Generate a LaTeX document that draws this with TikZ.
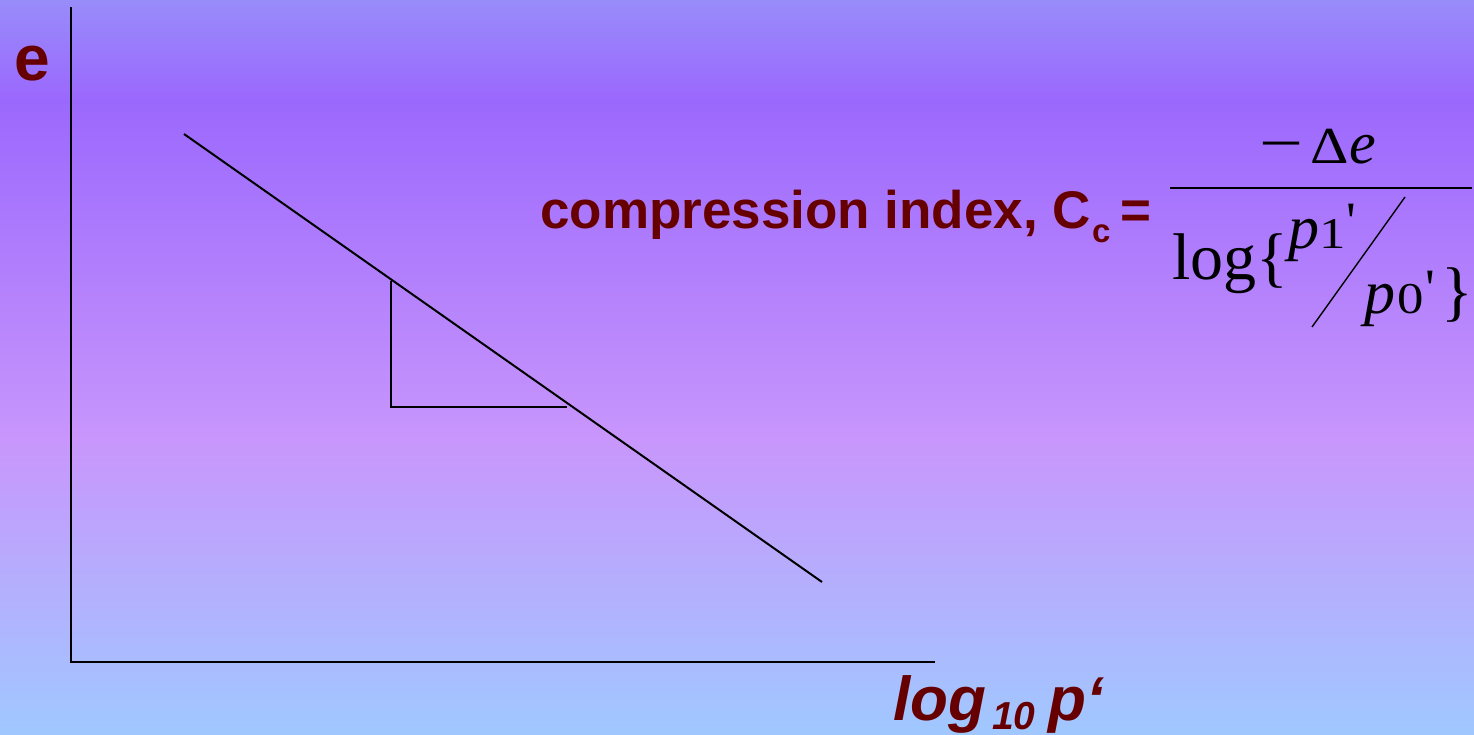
\documentclass[tikz,border=0pt]{standalone}
\usepackage{fontspec}
\setmainfont{Liberation Serif}
\newfontfamily\labelfont{Liberation Sans}
\newfontfamily\eqfont{Liberation Serif}
\usetikzlibrary{calc}
\definecolor{labelred}{HTML}{660000}
\definecolor{bgtop}{RGB}{152,140,250}
\definecolor{bgviolet}{RGB}{155,104,253}
\definecolor{bgpink}{RGB}{200,150,252}
\definecolor{bgblue}{RGB}{160,200,255}
\pgfdeclareverticalshading{slidebg}{100bp}{
    color(0bp)=(bgblue); color(25bp)=(bgblue);
    color(45bp)=(bgpink); color(68.2bp)=(bgviolet);
    color(75bp)=(bgtop); color(100bp)=(bgtop)}
\tikzset{
    axis line/.style={
        line width=2.5pt,
        black
    },
    slope line/.style={
        line width=2pt,
        black
    },
    axis label/.style={
        text=labelred,
        inner sep=0pt,
        anchor=base west
    },
    eq part/.style={
        text=black,
        inner sep=0pt,
        anchor=base west
    }
}
\newcommand{\fsz}[1]{\fontsize{#1}{#1}\selectfont}
\newcommand{\wide}[2][1.2]{\scalebox{#1}[1]{#2}}

\begin{document}
\begin{tikzpicture}[x=1pt,y=-1pt]
                \useasboundingbox (0,0) rectangle (1474,734);
                \shade[shading=slidebg] (0,0) rectangle (1474,734);
                \coordinate (O) at (71, 662);
                \coordinate (Ytop) at (71, 7);
                \coordinate (Xend) at (935, 662);
                \coordinate (L1) at (184, 134);
                \coordinate (L2) at (822, 582);
                \coordinate (T1) at (391, 281);
                \coordinate (T2) at (391, 407);
                \coordinate (T3) at (567, 407);
                \coordinate (B1) at (1170, 188);
                \coordinate (B2) at (1472, 188);
                \coordinate (S1) at (1312, 327);
                \coordinate (S2) at (1405, 197);
                \draw [axis line] (Ytop) -- (O) -- (Xend);
                \draw [slope line] (L1) -- (L2);
                \draw [slope line] (T1) -- (T2) -- (T3);
                \node [axis label, font=\labelfont\bfseries\fsz{64}] (elabel) at (14, 80) {e};
                \node [axis label, font=\labelfont\bfseries\itshape\fsz{62}] (loglabel) at (893, 720) {log};
                \node [axis label, font=\labelfont\bfseries\itshape\fsz{39}] (tenlabel) at (992, 729) {10};
                \node [axis label, font=\labelfont\bfseries\itshape\fsz{62}] (plabel) at (1048, 720) {p‘};
                \node [axis label, font=\labelfont\bfseries\fsz{53}] (cctext) at (540, 228) {compression index, C};
                \node [axis label, font=\labelfont\bfseries\fsz{33}] (ccsub) at (1092, 242) {c};
                \node [axis label, font=\labelfont\bfseries\fsz{53}] (cceq) at (1120, 228) {=};
                \draw [line width=2.5pt] (B1) -- (B2);
                \draw [line width=1.4pt] (S1) -- (S2);
                \node [eq part, font=\fsz{60}] (minus) at (1259, 163) {\wide[1.3]{−}};
                \node [eq part, font=\fsz{52}] (delta) at (1310, 163) {\wide[1.15]{Δ}};
                \node [eq part, font=\itshape\fsz{60}] (evar) at (1349, 163) {e};
                \node [eq part, font=\fsz{66}] (logtxt) at (1172, 279) {log\{};
                \node [eq part, font=\itshape\fsz{62}] (pone) at (1288, 248) {p};
                \node [eq part, font=\fsz{44}] (one) at (1319, 248) {\wide{1}};
                \node [eq part, font=\eqfont\fsz{54}] (primeone) at (1346, 239) {'};
                \node [eq part, font=\itshape\fsz{62}] (pzero) at (1364, 313) {p};
                \node [eq part, font=\fsz{44}] (zero) at (1397, 313) {\wide{0}};
                \node [eq part, font=\eqfont\fsz{54}] (primezero) at (1425, 306) {'};
                \node [eq part, font=\fsz{66}] (rbrace) at (1441, 313) {\}};
\end{tikzpicture}
\end{document}
